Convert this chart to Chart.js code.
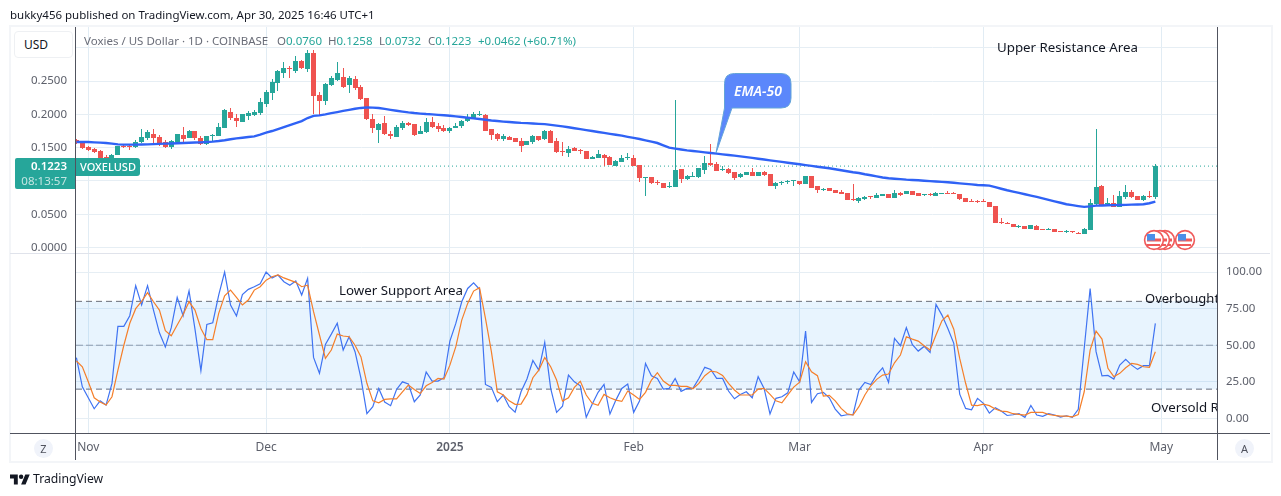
<!DOCTYPE html>
<html>
<head>
<meta charset="utf-8">
<title>VOXELUSD</title>
<script src="https://cdn.jsdelivr.net/npm/chart.js@4"></script>
<style>
  html, body { margin: 0; padding: 0; background: #fff; }
  body { width: 1281px; height: 496px; position: relative; overflow: hidden; font-family: "Noto Sans", sans-serif; color: #131722; }
  canvas { position: absolute; left: 0; top: 0; }
  .abs { position: absolute; white-space: nowrap; }
  .line { position: absolute; }
  .note { position: absolute; white-space: nowrap; font-size: 13.3px; line-height: 16px; color: #131722; }
  .legend { font-size: 11.5px; line-height: 14px; color: #6a6d78; }
  .legend b { font-weight: 400; color: #26a69a; }
  .circle { position: absolute; width: 19px; height: 19px; line-height: 19px; border-radius: 50%; background: #f0f3fa; color: #50535e; font-size: 11px; text-align: center; }
</style>
</head>
<body>
<canvas id="chart" width="1281" height="496"></canvas>

<div class="abs" style="left:10px;top:7px;font-size:11.5px;line-height:16px">bukky456 published on TradingView.com, Apr 30, 2025 16:46 UTC+1</div>

<!-- frame and pane lines -->
<div class="line" style="left:9px;top:25px;width:1260px;height:434px;border:2px solid #f3f5f8"></div>
<div class="line" style="left:10px;top:253px;width:1260px;height:1px;background:#e0e3eb"></div>
<div class="line" style="left:10px;top:433px;width:1260px;height:1px;background:#50535e"></div>
<div class="line" style="left:75px;top:27px;width:1px;height:433px;background:#50535e"></div>
<div class="line" style="left:1217px;top:27px;width:1px;height:433px;background:#50535e"></div>

<!-- left price scale bits -->
<div class="abs" style="left:14px;top:31px;width:57px;height:25px;background:#fff;border:1px solid #eef0f3;border-radius:4px;font-size:12px;line-height:25px;text-indent:9px">USD</div>
<div class="abs" style="left:15px;top:158px;width:60px;height:31px;background:#26a69a;border-radius:2px 0 0 2px;color:#fff;font-size:11.5px;line-height:15px;text-align:right">
  <div style="padding-right:8px;font-weight:600">0.1223</div>
  <div style="padding-right:8px;color:#c3e6e2">08:13:57</div>
</div>
<div class="abs" style="left:76px;top:158px;width:64px;height:18px;background:#26a69a;border-radius:0 3px 3px 0;color:#fff;font-size:11px;font-weight:500;line-height:18px;text-align:center">VOXELUSD</div>

<div class="abs legend" style="left:84px;top:34px">Voxies / US Dollar · 1D · COINBASE</div>
<div class="abs legend" style="left:277px;top:34px">O<b>0.0760</b></div>
<div class="abs legend" style="left:328px;top:34px">H<b>0.1258</b></div>
<div class="abs legend" style="left:379px;top:34px">L<b>0.0732</b></div>
<div class="abs legend" style="left:428px;top:34px">C<b>0.1223</b></div>
<div class="abs legend" style="left:478px;top:34px"><b>+0.0462 (+60.71%)</b></div>

<!-- drawn notes, clipped to the plot like on the site -->
<div class="abs" style="left:76px;top:27px;width:1141px;height:406px;overflow:hidden">
  <div class="note" style="left:921px;top:12px">Upper Resistance Area</div>
  <div class="note" style="left:263px;top:255px">Lower Support Area</div>
  <div class="note" style="left:1069px;top:263px;font-size:13px">Overbought</div>
  <div class="note" style="left:1075px;top:372px">Oversold Region</div>
</div>

<!-- EMA-50 callout -->
<svg class="abs" style="left:700px;top:60px" width="110" height="110">
  <path d="M37 13.5 H81 Q91 13.5 91 23.5 V38 Q91 48 81 48 H32 L16 93 L24.5 48 V23.5 Q24.5 13.5 34.5 13.5 Z" fill="#5b87fb" stroke="#63a4d8" stroke-width="1"/>
  <text x="58" y="36" text-anchor="middle" font-family="Noto Sans" font-size="14" font-weight="600" font-style="italic" fill="#fff">EMA-50</text>
</svg>

<!-- economic event flags -->
<svg class="abs" style="left:1140px;top:226px" width="60" height="28">
  <defs>
    <g id="flag">
      <circle r="9.4" fill="#fff" stroke="#f05a5a" stroke-width="1.6"/>
      <rect x="-7" y="-1.5" width="14" height="3" fill="#f05a5a"/>
      <rect x="-7" y="4" width="13" height="2" fill="#f05a5a"/>
      <rect x="-7" y="-6" width="8" height="6.5" fill="#4c8fe8"/>
    </g>
  </defs>
  <use href="#flag" x="25" y="14"/>
  <use href="#flag" x="20" y="14"/>
  <use href="#flag" x="14" y="14"/>
  <use href="#flag" x="45" y="14"/>
</svg>

<div class="circle" style="left:34px;top:439px">Z</div>
<div class="circle" style="left:1235px;top:439px">A</div>

<!-- logo -->
<svg class="abs" style="left:10px;top:472px" width="20" height="14" viewBox="0 0 36 24">
  <path d="M14 22H7V11H0V4h14v18zM28 22h-8l7.5-18h8L28 22z" fill="#131722"/>
  <circle cx="20" cy="8" r="4" fill="#131722"/>
</svg>
<div class="abs" style="left:33px;top:470px;font-size:12.2px;line-height:18px">TradingView</div>

<script>
// days counted from 1 Nov 2024, first candle is 30 Oct
const firstDay = -2;

const openVals = [
  .162,.158,.151,.148,.145,.136,.132,.139,.153,.152,
  .151,.158,.164,.171,.166,.158,.151,.158,.169,.165,
  .175,.164,.156,.168,.167,.180,.203,.194,.188,.198,
  .199,.202,.215,.232,.247,.262,.270,.265,.280,.268,
  .292,.229,.220,.244,.251,.256,.244,.253,.241,.224,
  .193,.176,.187,.170,.166,.179,.187,.185,.170,.173,
  .188,.182,.179,.175,.179,.182,.190,.195,.199,.199,
  .178,.170,.163,.166,.164,.160,.154,.158,.167,.163,
  .175,.160,.145,.142,.149,.146,.145,.133,.134,.139,
  .136,.123,.128,.134,.134,.124,.105,.106,.098,.097,
  .091,.091,.118,.103,.106,.106,.116,.127,.125,.116,
  .118,.113,.106,.109,.113,.107,.113,.110,.092,.097,
  .098,.100,.100,.095,.107,.092,.086,.089,.086,.083,
  .082,.072,.070,.073,.077,.074,.078,.080,.074,.082,
  .080,.085,.082,.079,.080,.077,.080,.082,.082,.080,
  .074,.070,.069,.070,.068,.062,.038,.037,.035,.031,
  .032,.028,.032,.028,.026,.028,.025,.023,.024,.022,
  .020,.026,.065,.092,.065,.067,.061,.076,.083,.077,
  .071,.077,.0760
];
const highVals = [
  .163,.159,.153,.149,.146,.139,.141,.153,.155,.155,
  .162,.178,.176,.178,.169,.161,.162,.170,.181,.177,
  .175,.168,.168,.170,.187,.208,.209,.200,.200,.205,
  .206,.224,.236,.253,.266,.278,.273,.288,.281,.297,
  .297,.233,.247,.257,.278,.270,.257,.257,.244,.224,
  .201,.187,.197,.175,.184,.190,.189,.185,.183,.194,
  .196,.187,.184,.181,.187,.191,.200,.203,.205,.200,
  .178,.172,.170,.167,.164,.164,.160,.169,.168,.177,
  .176,.164,.159,.152,.151,.148,.145,.137,.146,.140,
  .137,.131,.139,.142,.139,.124,.106,.106,.101,.097,
  .098,.221,.118,.109,.113,.119,.137,.155,.128,.123,
  .119,.113,.112,.113,.119,.113,.115,.111,.098,.100,
  .101,.101,.100,.107,.107,.092,.089,.090,.086,.086,
  .082,.095,.076,.077,.078,.082,.080,.080,.086,.083,
  .085,.085,.082,.081,.082,.083,.082,.085,.083,.080,
  .074,.073,.071,.073,.068,.062,.044,.038,.035,.034,
  .032,.034,.034,.028,.029,.028,.025,.026,.025,.023,
  .029,.073,.178,.094,.074,.079,.085,.094,.086,.077,
  .079,.085,.1258
];
const lowVals = [
  .156,.148,.145,.142,.134,.131,.130,.139,.149,.147,
  .150,.157,.162,.156,.152,.150,.148,.157,.159,.164,
  .162,.154,.154,.160,.167,.180,.191,.181,.188,.191,
  .197,.199,.211,.221,.235,.255,.255,.262,.268,.264,
  .201,.199,.214,.242,.250,.239,.232,.236,.222,.191,
  .172,.157,.169,.163,.166,.176,.183,.168,.170,.172,
  .179,.173,.173,.172,.179,.179,.188,.194,.197,.175,
  .161,.160,.160,.161,.158,.143,.154,.155,.160,.162,
  .157,.142,.137,.136,.145,.141,.133,.133,.134,.123,
  .124,.122,.128,.132,.122,.098,.077,.095,.094,.089,
  .089,.091,.097,.101,.106,.105,.110,.122,.115,.115,
  .110,.101,.104,.109,.107,.107,.108,.092,.088,.094,
  .095,.092,.094,.095,.089,.082,.085,.085,.082,.080,
  .071,.070,.067,.072,.073,.074,.078,.074,.074,.077,
  .080,.079,.077,.077,.077,.077,.080,.081,.080,.071,
  .068,.068,.067,.068,.061,.037,.035,.035,.031,.030,
  .028,.028,.026,.026,.026,.023,.024,.022,.022,.020,
  .020,.026,.064,.064,.064,.061,.061,.073,.074,.071,
  .070,.074,.0732
];
const closeVals = [
  .157,.149,.146,.143,.135,.132,.139,.152,.151,.151,
  .158,.166,.173,.165,.156,.151,.160,.170,.163,.175,
  .164,.156,.167,.169,.181,.207,.194,.190,.200,.202,
  .203,.218,.233,.248,.265,.269,.268,.280,.270,.292,
  .227,.220,.246,.254,.262,.241,.254,.240,.223,.193,
  .180,.185,.170,.168,.181,.187,.184,.169,.175,.188,
  .181,.178,.175,.179,.182,.190,.196,.200,.200,.175,
  .169,.163,.167,.161,.158,.152,.160,.167,.161,.175,
  .157,.143,.144,.148,.145,.145,.133,.136,.140,.135,
  .124,.130,.134,.135,.122,.104,.106,.097,.097,.089,
  .092,.116,.103,.107,.107,.119,.127,.124,.115,.117,
  .112,.104,.110,.113,.107,.113,.109,.092,.097,.098,
  .099,.101,.095,.107,.089,.086,.088,.085,.082,.080,
  .071,.071,.074,.076,.076,.079,.080,.074,.082,.079,
  .085,.079,.077,.080,.079,.082,.082,.081,.081,.073,
  .068,.069,.068,.069,.061,.037,.037,.035,.031,.032,
  .028,.034,.026,.026,.028,.023,.024,.024,.023,.021,
  .028,.067,.091,.064,.067,.061,.077,.083,.076,.071,
  .077,.076,.1223
];
const emaVals = [
  .1585,.1585,.1585,.158,.1575,.157,.156,.155,.1545,.1545,
  .1545,.1547,.155,.1553,.1557,.156,.1563,.1567,.157,.1573,
  .1577,.158,.1585,.159,.160,.1612,.1627,.164,.165,.166,
  .167,.1695,.1725,.175,.178,.181,.184,.187,.190,.1945,
  .1978,.1985,.200,.2018,.2035,.2052,.2068,.2085,.2097,.2105,
  .2102,.2095,.2082,.2068,.2055,.2042,.203,.202,.2012,.2005,
  .200,.1993,.1987,.198,.197,.196,.195,.194,.193,.192,
  .1908,.190,.1892,.1885,.1878,.1872,.1868,.1863,.1858,.1853,
  .1842,.1832,.182,.1806,.1792,.1778,.1764,.175,.1736,.1722,
  .1708,.1694,.168,.1663,.1647,.163,.161,.159,.157,.1535,
  .150,.1485,.1472,.146,.145,.144,.143,.142,.141,.140,
  .139,.138,.137,.1358,.1346,.1334,.1322,.131,.1298,.1286,
  .1274,.1262,.125,.1238,.1226,.1214,.1202,.119,.1175,.116,
  .1145,.113,.112,.110,.1085,.1068,.1052,.104,.1033,.1027,
  .102,.1015,.101,.1004,.0998,.0992,.0986,.098,.0972,.0964,
  .0956,.0948,.094,.0935,.093,.0907,.0883,.086,.084,.082,
  .080,.078,.076,.0738,.0716,.0694,.0672,.065,.0636,.0622,
  .061,.0618,.063,.0632,.0634,.0636,.0638,.064,.0644,.0647,
  .065,.0665,.069
];
const rsiVals = [
  41.5,21.6,14.1,6.6,12,9.1,23.9,62.9,62.9,70.2,
  90.7,77.5,90.7,74,58.5,48.8,62,82.7,70.2,87.2,
  61,32.6,64.2,65.4,84.3,100,77.5,70,84.7,88.2,
  90,92,100,96,98,93.4,91,93.9,84.3,95.7,
  41.7,30.8,50.6,57.6,65,46.7,55.8,45.6,27.3,3.2,
  8,20.5,11.2,8.7,19.8,25,23.5,11.4,16,31.7,
  25.5,25.5,27.8,52.8,64.9,79.7,88.8,92.7,88.2,23.2,
  21.2,11.4,16,8,4.3,18.2,26.9,39.6,33,52,
  20.5,4.1,8.4,29.6,25,22.3,.7,9.6,17.8,23.2,
  3,12.5,20.5,23.5,4.1,12,37.6,29.2,27.3,20,
  20.5,27.3,18.5,20.5,20.5,27.3,34.9,33.5,27.3,27.3,
  18.7,13.4,16.4,18.2,14.1,28.5,20.5,3,13.7,14.8,
  17.5,31.7,25,59.7,10.9,16.9,17.8,14.1,6.4,1.8,
  2.5,2.5,19.4,24.6,23.2,30,34.6,24.6,54.7,49.7,
  62,50.6,46,49.2,45.1,77.9,70.6,61.5,51.3,16.6,
  6.8,5.9,13.7,10.3,3.6,7.3,5,2,2.5,3.2,
  .7,8.9,2.3,1.4,3.2,2.3,.9,1.8,.7,6.2,
  47.8,88.8,45.6,29,29.4,26.9,36.4,40.3,36.4,33.5,
  36,36,64.9
];
const rsiMaVals = [
  39.2,35.3,25,14.1,11.2,9.1,14.8,33,50,65,
  75,80,86,79.7,74,60,56.5,63.8,71,79.7,
  74,61.5,53.8,53.8,71.8,83.8,87.7,82.7,77.5,80.9,
  87.7,90,94.5,96.8,98,96,94.5,93,90,91,
  72.9,57,41,46.7,57.6,56.3,55.8,50,42,24,
  12,10.7,13,13.4,13.4,18.2,22.8,19.8,17,22.3,
  24.6,27.3,26.9,36.4,49,67.2,78.6,87,89.3,68.3,
  45.6,18.2,16,12,9.6,9.8,16.4,27.8,33,41.7,
  35.3,26.2,11.8,14.1,21.2,25.3,16,10.3,8.9,16.4,
  14.1,12.5,11.6,18.7,16,13,17.8,26.2,31.2,25.5,
  22.6,22.6,21.9,21.9,20.3,23.9,29.2,32.3,31.7,29.4,
  23.9,19.4,16,16,16,20,20.5,16.4,12,10.7,
  16,21.4,24.8,38.7,31.9,29.2,15.3,15.7,12,6.8,
  3.2,2.3,8,16,22.3,26.7,29.6,30.3,38,43.3,
  55.8,54.2,52.8,49.7,46.7,57,66.7,70.6,61,41,
  24,9.1,8.7,9.8,8.7,6.4,5,4.6,3.2,2.7,
  2.3,4.1,4.1,4.1,2.7,2,1.6,1.6,1.1,2.7,
  18.2,46.7,59.7,54.2,34.2,28.5,30.8,34.6,37.6,36.9,
  35.3,34.9,45.6
];

const lastPrice = 0.1223;
const rsiLevels = [80, 50, 20];

const monthDays = [0, 30, 61, 92, 120, 151, 181];
const monthLabels = ['Nov', 'Dec', '2025', 'Feb', 'Mar', 'Apr', 'May'];
const priceTicks = [0, 0.05, 0.1, 0.15, 0.2, 0.25, 0.3];
const rsiTicks = [0, 25, 50, 75, 100];

// both panes share one chart area, so each scale runs past its own pane
const xMin = -2.07, xMax = 190.57;
const priceMin = -0.2787, priceMax = 0.3313;
const rsiMin = -9.98, rsiMax = 267.5;

const UP = '#26a69a', DOWN = '#ef5350';
const GRID = '#e6eef4';
const AXIS_TEXT = '#5d606b';

const dayOf = i => firstDay + i;
const barColors = closeVals.map((c, i) => c >= openVals[i] ? UP : DOWN);
const toPoints = vals => vals.map((v, i) => ({ x: dayOf(i), y: v }));
const flatLine = v => [{ x: xMin, y: v }, { x: xMax, y: v }];

const levelSets = rsiLevels.map((lv, i) => ({
  type: 'line',
  yAxisID: 'rsi',
  data: flatLine(lv),
  borderColor: i === 1 ? '#9a9da6' : '#6a6d78',
  borderWidth: 1,
  borderDash: i === 1 ? [7, 3] : [6, 4],
  pointRadius: 0,
  // first level carries the band down to the last one
  fill: i === 0 ? { value: rsiLevels[2] } : false,
  backgroundColor: 'rgba(33,150,243,0.1)',
  order: 9
}));

// candles look soft on half pixels, so snap them to the pixel grid before painting
const snapBars = {
  id: 'snapBars',
  beforeDatasetsDraw(chart) {
    chart.getSortedVisibleDatasetMetas().forEach(meta => {
      if (meta.type !== 'bar') return;
      meta.data.forEach(el => {
        el.x = Math.floor(el.x) + 0.5;
        const top = Math.round(Math.min(el.y, el.base));
        const bottom = Math.max(top + 1, Math.round(Math.max(el.y, el.base)));
        el.y = top;
        el.base = bottom;
        el.height = bottom - top;
      });
    });
  }
};

new Chart(document.getElementById('chart'), {
  type: 'bar',
  plugins: [snapBars],
  data: {
    datasets: [
      ...levelSets,
      {
        type: 'line', yAxisID: 'y', data: flatLine(lastPrice),
        borderColor: UP, borderWidth: 1, borderDash: [1, 3], pointRadius: 0, order: 8
      },
      {
        label: 'wicks', yAxisID: 'y', grouped: false, barThickness: 1, inflateAmount: 0,
        data: highVals.map((h, i) => ({ x: dayOf(i), y: [lowVals[i], h] })),
        backgroundColor: barColors, order: 5
      },
      {
        label: 'bodies', yAxisID: 'y', grouped: false, barThickness: 5, minBarLength: 1, inflateAmount: 0,
        data: openVals.map((o, i) => ({ x: dayOf(i), y: [o, closeVals[i]] })),
        backgroundColor: barColors, order: 4
      },
      {
        type: 'line', label: 'EMA-50', yAxisID: 'y', data: toPoints(emaVals),
        borderColor: '#2f62f5', borderWidth: 2.4, pointRadius: 0, tension: 0, order: 1
      },
      {
        type: 'line', label: 'RSI MA', yAxisID: 'rsi', data: toPoints(rsiMaVals),
        borderColor: '#f57f2a', borderWidth: 1.2, pointRadius: 0, tension: 0, order: 1
      },
      {
        type: 'line', label: 'RSI', yAxisID: 'rsi', data: toPoints(rsiVals),
        borderColor: '#3f73f2', borderWidth: 1.2, pointRadius: 0, tension: 0, order: 2
      }
    ]
  },
  options: {
    responsive: false,
    animation: false,
    devicePixelRatio: 1,
    layout: { padding: { left: 10, right: 11, top: 27, bottom: 36 } },
    plugins: { legend: { display: false }, tooltip: { enabled: false } },
    scales: {
      x: {
        type: 'linear', offset: false, bounds: 'data', min: xMin, max: xMax,
        grid: { color: '#e1ecf4', offset: false, drawTicks: false },
        border: { display: false },
        afterBuildTicks: s => { s.ticks = monthDays.map(v => ({ value: v })); },
        afterFit: s => { s.height = 27; },
        ticks: {
          autoSkip: false, maxRotation: 0, padding: 7, color: AXIS_TEXT,
          font: c => ({ family: 'Noto Sans', size: 12, weight: c.index === 2 ? '600' : '400' }),
          callback: (v, i) => monthLabels[i]
        }
      },
      y: {
        position: 'left', bounds: 'data', min: priceMin, max: priceMax, beginAtZero: false,
        grid: { color: GRID, drawTicks: false },
        border: { display: false },
        afterBuildTicks: s => { s.ticks = priceTicks.map(v => ({ value: v })); },
        afterFit: s => { s.width = 66; },
        ticks: {
          padding: 9, color: AXIS_TEXT, font: { family: 'Noto Sans', size: 11.5 },
          callback: v => v.toFixed(4)
        }
      },
      rsi: {
        position: 'right', bounds: 'data', min: rsiMin, max: rsiMax,
        grid: { color: GRID, drawTicks: false },
        border: { display: false },
        afterBuildTicks: s => { s.ticks = rsiTicks.map(v => ({ value: v })); },
        afterFit: s => { s.width = 52; },
        ticks: {
          padding: 8, color: AXIS_TEXT, font: { family: 'Noto Sans', size: 11.5 },
          callback: v => v.toFixed(2)
        }
      }
    }
  }
});
</script>
</body>
</html>
